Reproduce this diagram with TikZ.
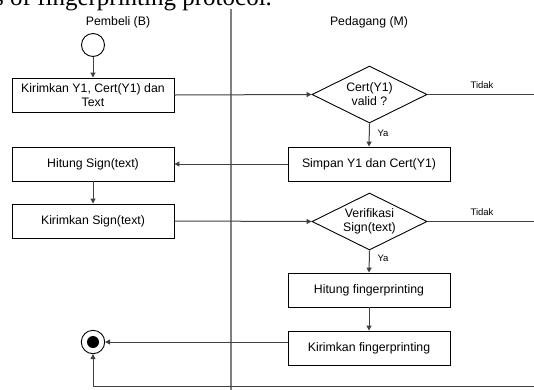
\documentclass[tikz,border=0pt]{standalone}
\usepackage{fontspec}
\setmainfont{Liberation Sans}
\newfontfamily\capfont{Liberation Serif}
\usetikzlibrary{shapes.geometric,arrows.meta}
\definecolor{conn}{gray}{0.25}
\definecolor{divc}{gray}{0.5}
\tikzset{
  box/.style={draw=black,line width=0.9pt,minimum width=162pt,minimum height=34pt,inner sep=0pt,align=center,font=\fontsize{12.3}{14}\selectfont},
  dec/.style={draw=black,line width=0.9pt,shape=diamond,aspect=2,minimum width=115pt,minimum height=57pt,inner sep=0pt,align=center,font=\fontsize{12.3}{14}\selectfont},
  lane/.style={font=\fontsize{12.3}{14}\selectfont},
  small/.style={font=\fontsize{9.5}{11}\selectfont},
  link/.style={draw=conn,line width=1pt},
  arr/.style={link,-{Triangle[length=5pt,width=5pt]}},
}
\begin{document}
\begin{tikzpicture}[x=1pt,y=-1pt]
\useasboundingbox (0,0) rectangle (534,389);
\clip (0,0) rectangle (534,389);
\fill[white] (0,0) rectangle (534,389);
% caption fragment
\node[anchor=base west,inner sep=0pt,font=\capfont\fontsize{25}{25}\selectfont] (caption) at (-6,5) {s of fingerprinting protocol.};
% divider
\coordinate (dtop) at (231,9);
\coordinate (dbot) at (231,392);
\draw[draw=divc,line width=1.3pt] (dtop) -- (dbot);
% lane titles
\node[lane] (lb) at (118,22) {Pembeli (B)};
\node[lane] (lm) at (369,22) {Pedagang (M)};
% nodes
\node[draw=black,line width=0.9pt,circle,minimum size=23pt,inner sep=0pt] (start) at (93,45) {};
\node[box] (b1) at (93,95) {Kirimkan Y1, Cert(Y1) dan\\Text};
\node[dec] (d1) at (369.5,94.5) {Cert(Y1)\\valid ?};
\node[box] (simpan) at (369,164) {Simpan Y1 dan Cert(Y1)};
\node[box] (hs) at (93,164) {Hitung Sign(text)};
\node[box] (ks) at (93,221) {Kirimkan Sign(text)};
\node[dec] (d2) at (369.5,221.5) {Verifikasi\\Sign(text)};
\node[box] (hf) at (369,290) {Hitung fingerprinting};
\node[box] (kf) at (369,348) {Kirimkan fingerprinting};
\node[draw=black,line width=0.9pt,circle,minimum size=23.4pt,inner sep=0pt] (end) at (93,342) {};
\fill[black] (end.center) circle (6pt);
% free ends
\coordinate (r1) at (536,94.5);
\coordinate (r2) at (536,221.5);
\coordinate (r3) at (536,386.5);
% connectors
\draw[arr] (start) -- (b1);
\draw[arr] (b1.east) -- (d1.west);
\draw[link] (d1.east) -- (r1);
\node[small] (t1) at (482,85) {Tidak};
\draw[arr] (d1.south) -- (simpan.north);
\node[small,anchor=west] (y1) at (374,133) {Ya};
\draw[arr] (simpan.west) -- (hs.east);
\draw[arr] (hs.south) -- (ks.north);
\draw[arr] (ks.east) -- (d2.west);
\draw[link] (d2.east) -- (r2);
\node[small] (t2) at (482,212) {Tidak};
\draw[arr] (d2.south) -- (hf.north);
\node[small,anchor=west] (y2) at (374,258) {Ya};
\draw[arr] (hf.south) -- (kf.north);
\draw[arr] (kf.west |- end.east) -- (end.east);
\draw[arr] (r3) -| (end.south);
\end{tikzpicture}
\end{document}
